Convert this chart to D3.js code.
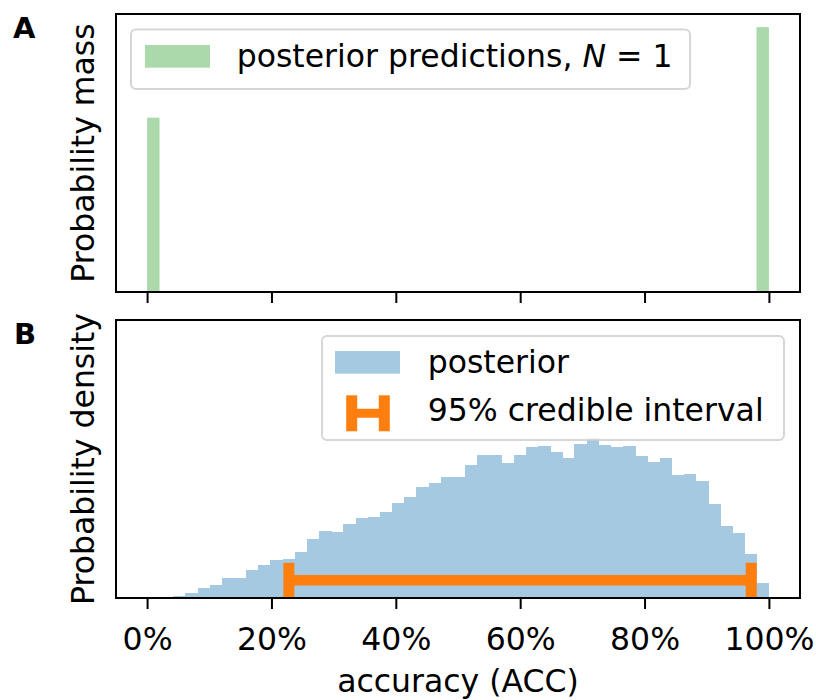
<!DOCTYPE html>
<html><head><meta charset="utf-8">
<script src="https://cdn.jsdelivr.net/npm/d3@7"></script>
<style>
body{margin:0;background:#fff}
svg{display:block}
text{font-family:"DejaVu Sans",sans-serif;fill:#000}
</style>
</head><body>
<svg id="c" width="816" height="700"></svg>
<script>
// ---------- data ----------
const predCategories = ["wrong (0%)", "correct (100%)"];
const predBinStart = [0.0, 0.98];
const predBinWidth = 0.02;
const predMass = [0.397, 0.603];

const posteriorBinLo = 0.0225;
const posteriorBinHi = 1.0;
const posteriorDensity = [0.005, 0.02, 0.06, 0.11, 0.15, 0.23, 0.23, 0.31, 0.37, 0.43,
  0.44, 0.52, 0.66, 0.75, 0.74, 0.83, 0.90, 0.91, 0.96, 1.07,
  1.13, 1.25, 1.29, 1.36, 1.36, 1.49, 1.60, 1.60, 1.51, 1.60,
  1.69, 1.71, 1.64, 1.57, 1.73, 1.80, 1.72, 1.69, 1.71, 1.59,
  1.53, 1.57, 1.38, 1.39, 1.31, 1.05, 0.81, 0.73, 0.49, 0.17];

const ciLow = 0.228, ciHigh = 0.9716, ciY = 0.2;

const xTicks = [0, 0.2, 0.4, 0.6, 0.8, 1.0];
const xTickLabels = ["0%", "20%", "40%", "60%", "80%", "100%"];

// ---------- layout ----------
const svg = d3.select("#c");
const L = 116, R = 800;
const A = {top: 14, bottom: 292};
const B = {top: 320, bottom: 598};
const FS = 31.5;
const green = "#abd9ab", blue = "#a5c9e1", orange = "#ff7f0e";

const x = d3.scaleLinear().domain([-0.05, 1.05]).range([L, R]);
const yA = d3.scaleLinear().domain([0, 0.633]).range([A.bottom, A.top]);
const yB = d3.scaleLinear().domain([0, 3.12]).range([B.bottom, B.top]);

// ---------- panel A ----------
const gA = svg.append("g");
gA.selectAll("rect.bar").data(predMass).join("rect")
  .attr("class", "bar")
  .attr("x", (d, i) => x(predBinStart[i]))
  .attr("width", (d, i) => x(predBinStart[i] + predBinWidth) - x(predBinStart[i]))
  .attr("y", d => yA(d))
  .attr("height", d => yA(0) - yA(d))
  .attr("fill", green);

const axA = gA.append("g").attr("transform", `translate(0,${A.bottom})`)
  .call(d3.axisBottom(x).tickValues(xTicks).tickSize(11).tickFormat(""));
axA.select(".domain").remove();
axA.selectAll("line").attr("stroke", "#000").attr("stroke-width", 2);

gA.append("rect").attr("x", L).attr("y", A.top).attr("width", R - L).attr("height", A.bottom - A.top)
  .attr("fill", "none").attr("stroke", "#000").attr("stroke-width", 2);

// legend A
const lgA = gA.append("g");
lgA.append("rect").attr("x", 131).attr("y", 29.5).attr("width", 559).attr("height", 59.5)
  .attr("rx", 5).attr("fill", "#fff").attr("fill-opacity", 0.8)
  .attr("stroke", "#ccc").attr("stroke-opacity", 0.8).attr("stroke-width", 2);
lgA.append("rect").attr("x", 145).attr("y", 45).attr("width", 65).attr("height", 22.7).attr("fill", green);
const tA = lgA.append("text").attr("x", 236.7).attr("y", 66.7).style("font-size", FS + "px");
tA.append("tspan").text("posterior predictions, ");
tA.append("tspan").style("font-style", "italic").text("N");
tA.append("tspan").text(" = 1");

gA.append("text").attr("transform", `translate(94,${(A.top + A.bottom) / 2}) rotate(-90)`)
  .attr("text-anchor", "middle").style("font-size", FS + "px").text("Probability mass");
gA.append("text").attr("x", 13).attr("y", 38).style("font-size", "29px").style("font-weight", "bold").text("A");

// ---------- panel B ----------
const gB = svg.append("g");
const nb = posteriorDensity.length;
const binW = (posteriorBinHi - posteriorBinLo) / nb;
gB.selectAll("rect.bar").data(posteriorDensity).join("rect")
  .attr("class", "bar")
  .attr("shape-rendering", "crispEdges")
  .attr("x", (d, i) => x(posteriorBinLo + i * binW))
  .attr("width", (d, i) => x(posteriorBinLo + (i + 1) * binW) - x(posteriorBinLo + i * binW) + 0.5)
  .attr("y", d => yB(d))
  .attr("height", d => yB(0) - yB(d))
  .attr("fill", blue);

// credible interval
const ci = gB.append("g");
ci.append("line").attr("x1", x(ciLow)).attr("x2", x(ciHigh)).attr("y1", yB(ciY)).attr("y2", yB(ciY))
  .attr("stroke", orange).attr("stroke-width", 10.5);
[ciLow, ciHigh].forEach(v => {
  ci.append("line").attr("x1", x(v)).attr("x2", x(v)).attr("y1", yB(ciY) - 17.4).attr("y2", yB(ciY) + 17.4)
    .attr("stroke", orange).attr("stroke-width", 11);
});

const axB = gB.append("g").attr("transform", `translate(0,${B.bottom})`)
  .call(d3.axisBottom(x).tickValues(xTicks).tickSize(11).tickFormat((d, i) => xTickLabels[i]));
axB.select(".domain").remove();
axB.selectAll("line").attr("stroke", "#000").attr("stroke-width", 2);
axB.selectAll("text").attr("y", 51.5).attr("dy", null)
  .style("font-size", FS + "px").style("font-family", "'DejaVu Sans',sans-serif").attr("fill", "#000");

gB.append("rect").attr("x", L).attr("y", B.top).attr("width", R - L).attr("height", B.bottom - B.top)
  .attr("fill", "none").attr("stroke", "#000").attr("stroke-width", 2);

// legend B
const lgB = gB.append("g");
lgB.append("rect").attr("x", 322).attr("y", 336).attr("width", 462).attr("height", 104)
  .attr("rx", 5).attr("fill", "#fff").attr("fill-opacity", 0.8)
  .attr("stroke", "#ccc").attr("stroke-opacity", 0.8).attr("stroke-width", 2);
lgB.append("rect").attr("x", 335).attr("y", 351).attr("width", 65).attr("height", 22.7).attr("fill", blue);
lgB.append("text").attr("x", 427.7).attr("y", 372.7).style("font-size", FS + "px").text("posterior");
const hy = 413.3;
lgB.append("line").attr("x1", 351.5).attr("x2", 384.5).attr("y1", hy).attr("y2", hy)
  .attr("stroke", orange).attr("stroke-width", 9);
[351.7, 384.3].forEach(cx => {
  lgB.append("line").attr("x1", cx).attr("x2", cx).attr("y1", hy - 18).attr("y2", hy + 18)
    .attr("stroke", orange).attr("stroke-width", 11);
});
lgB.append("text").attr("x", 427.7).attr("y", 420.7).style("font-size", FS + "px").text("95% credible interval");

gB.append("text").attr("transform", `translate(94,${(B.top + B.bottom) / 2}) rotate(-90)`)
  .attr("text-anchor", "middle").style("font-size", FS + "px").text("Probability density");
gB.append("text").attr("x", 14).attr("y", 344).style("font-size", "29px").style("font-weight", "bold").text("B");

svg.append("text").attr("x", (L + R) / 2).attr("y", 692).attr("text-anchor", "middle")
  .style("font-size", FS + "px").text("accuracy (ACC)");
</script>
</body></html>
